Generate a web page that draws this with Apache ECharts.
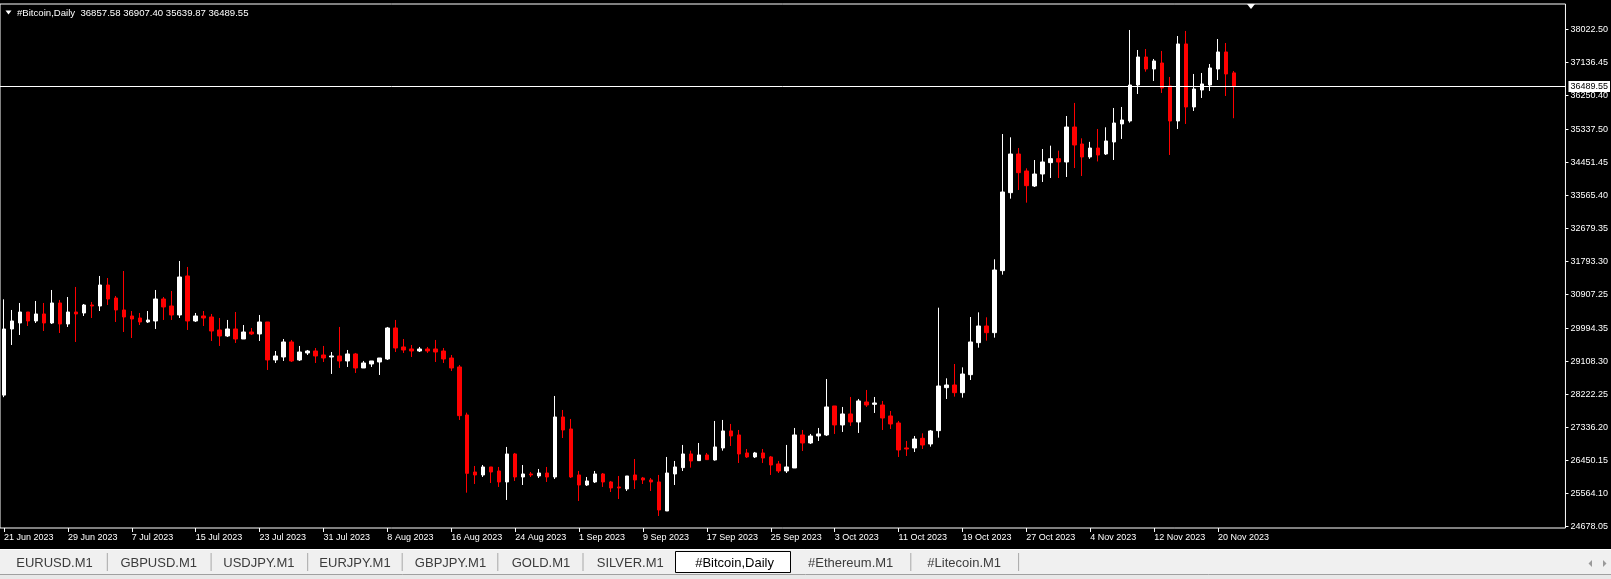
<!DOCTYPE html>
<html>
<head>
<meta charset="utf-8">
<title>#Bitcoin,Daily</title>
<script src="https://cdn.jsdelivr.net/npm/echarts@6/dist/echarts.min.js"></script>
<style>
  html, body { margin: 0; padding: 0; background: #000; overflow: hidden; }
  #chart { width: 1611px; height: 579px; }
</style>
</head>
<body>
<div id="chart"></div>
<script>
// daily bars, first one is 21 Jun 2023
const startDay = [2023, 5, 21];
const slots = 196; // bars that fit in the window incl. the shifted empty area

const opens = [
  28205, 29981, 30142, 30437, 30196, 30384, 30142, 30679, 30115, 30437,
  30410, 30625, 30598, 31162, 30813, 30491, 30330, 30276, 30169, 30196,
  30786, 30598, 30357, 31404, 30196, 30330, 30303, 29954, 29793, 29981,
  29712, 29900, 29847, 30169, 29149, 29229, 29632, 29149, 29337, 29390,
  29283, 29229, 29256, 29122, 29310, 28934, 29041, 29095, 29175, 30008,
  29498, 29444, 29390, 29444, 29444, 29390, 29202, 28961, 27672, 26141,
  26061, 26276, 26168, 25873, 26625, 26007, 26088, 26034, 26114, 26007,
  27618, 27296, 26061, 25792, 25873, 26088, 25873, 25739, 25685, 26061,
  25980, 25927, 25873, 25094, 26088, 26258, 26625, 26446, 26598, 26464,
  26786, 27243, 27135, 26652, 26545, 26652, 26545, 26356, 26168, 26249,
  27135, 26920, 27108, 27135, 27914, 27404, 27699, 27484, 28021, 27958,
  27940, 27645, 27457, 26786, 26786, 27045, 26893, 27251, 28405, 28477,
  28271, 28754, 29614, 30061, 29882, 31547, 33641, 34679, 34223, 33820,
  34142, 34447, 34554, 34465, 35404, 34948, 34600, 34840, 34680, 35002,
  35486, 35566, 36532, 37284, 36962, 37123, 36506, 35566, 37634, 35942,
  36398, 36532, 36962, 37419, 36857.58
];
const highs = [
  30778, 30491, 30679, 30437, 30733, 30679, 31028, 30760, 30840, 31109,
  30652, 30706, 31404, 31350, 30867, 31538, 30464, 30410, 30464, 31028,
  30840, 31001, 31807, 31646, 30410, 30464, 30384, 30276, 30223, 30437,
  30088, 30008, 30357, 30169, 29390, 29712, 29686, 29525, 29417, 29471,
  29525, 29363, 30035, 29417, 29337, 29122, 29122, 29202, 30035, 30223,
  29712, 29551, 29498, 29498, 29686, 29471, 29283, 29014, 27734, 26302,
  26329, 26276, 26276, 26813, 26652, 26329, 26141, 26222, 26276, 28182,
  27806, 27565, 26168, 26007, 26168, 26114, 25900, 26034, 26034, 26490,
  26007, 25980, 26061, 26544, 26437, 26867, 26714, 26920, 26652, 27511,
  27538, 27431, 27269, 26759, 26679, 26759, 26571, 26437, 26867, 27323,
  27269, 27162, 27323, 28638, 27914, 27887, 28155, 28102, 28343, 28155,
  28048, 27779, 27511, 26974, 27108, 27179, 27269, 30553, 28656, 29041,
  28951, 30303, 30428, 30294, 31851, 35216, 35127, 34840, 34295, 34518,
  34814, 34903, 34769, 35700, 36050, 35100, 35005, 35351, 35396, 35915,
  35942, 38009, 37472, 37499, 37231, 37446, 36748, 37848, 37983, 36828,
  36855, 37096, 37767, 37660, 36907.40
];
const lows = [
  28150, 29551, 29820, 30061, 30142, 29927, 30115, 29873, 30035, 29632,
  30330, 30276, 30464, 30625, 30169, 29900, 29739, 30088, 30142, 29981,
  30223, 30223, 30276, 29954, 30169, 30061, 29659, 29525, 29766, 29605,
  29712, 29820, 29659, 28880, 29068, 29122, 29095, 29122, 29283, 29068,
  29095, 28773, 28934, 28961, 28800, 28934, 28961, 28746, 29149, 29363,
  29337, 29229, 29363, 29337, 29095, 29068, 28853, 27538, 25586, 25819,
  26007, 25846, 25739, 25390, 25900, 25792, 26007, 25980, 25873, 25953,
  27054, 25980, 25363, 25765, 25846, 25739, 25604, 25416, 25631, 25685,
  25819, 25631, 24960, 25094, 25792, 26168, 26258, 26437, 26463, 26446,
  26714, 26840, 26383, 26517, 26517, 26383, 26061, 26114, 26114, 26249,
  26705, 26893, 26974, 27108, 27162, 27216, 27377, 27189, 27887, 27726,
  27269, 27296, 26544, 26571, 26678, 26759, 26821, 27063, 28101, 28164,
  28137, 28611, 29479, 29667, 29748, 31439, 33480, 33713, 33373, 33793,
  33928, 34035, 34035, 34062, 34303, 34089, 34550, 34480, 34653, 34519,
  35083, 35521, 36291, 36890, 36640, 36318, 34653, 35351, 35486, 35835,
  36184, 36371, 36667, 36237, 35639.87
];
const closes = [
  29981, 30196, 30437, 30196, 30384, 30142, 30679, 30115, 30437, 30384,
  30625, 30598, 31162, 30786, 30491, 30303, 30249, 30169, 30222, 30786,
  30572, 30357, 31377, 30196, 30330, 30276, 29927, 29793, 29981, 29712,
  29900, 29847, 30169, 29149, 29256, 29632, 29122, 29363, 29390, 29256,
  29202, 29256, 29122, 29310, 28934, 29068, 29122, 29202, 30008, 29471,
  29417, 29390, 29444, 29390, 29363, 29175, 28934, 27654, 26105, 26061,
  26276, 26141, 25873, 26625, 26007, 26088, 26061, 26114, 26007, 27618,
  27269, 26007, 25792, 25900, 26088, 25873, 25712, 25712, 26034, 25927,
  25927, 25873, 25121, 26114, 26276, 26625, 26437, 26598, 26473, 26813,
  27243, 27108, 26625, 26545, 26652, 26517, 26329, 26168, 26276, 27135,
  26920, 27108, 27162, 27887, 27404, 27699, 27484, 28048, 27940, 27994,
  27591, 27430, 26732, 26759, 27027, 26866, 27242, 28450, 28477, 28271,
  28772, 29632, 30061, 29882, 31565, 33659, 34679, 34178, 33829, 34142,
  34465, 34554, 34465, 35404, 34921, 34599, 34840, 34652, 35029, 35512,
  35593, 36532, 37284, 36962, 37177, 36452, 35566, 37634, 35942, 36425,
  36560, 36989, 37419, 36828, 36489.55
];

// price scale labels as printed by the terminal
const priceTicks = [
  24678.05, 25564.10, 26450.15, 27336.20, 28222.25, 29108.30, 29994.35, 30907.25,
  31793.30, 32679.35, 33565.40, 34451.45, 35337.50, 36250.40, 37136.45, 38022.50
];
const symbolName = '#Bitcoin,Daily';
const tabNames = ['EURUSD.M1', 'GBPUSD.M1', 'USDJPY.M1', 'EURJPY.M1', 'GBPJPY.M1',
  'GOLD.M1', 'SILVER.M1', '#Bitcoin,Daily', '#Ethereum.M1', '#Litecoin.M1'];
const activeTab = 7;

const MONTHS = ['Jan', 'Feb', 'Mar', 'Apr', 'May', 'Jun', 'Jul', 'Aug', 'Sep', 'Oct', 'Nov', 'Dec'];
const categories = [];
for (let i = 0; i < slots; i++) {
  if (i >= opens.length) { categories.push(''); continue; }
  const d = new Date(Date.UTC(startDay[0], startDay[1], startDay[2] + i));
  categories.push(d.getUTCDate() + ' ' + MONTHS[d.getUTCMonth()] + ' ' + d.getUTCFullYear());
}
const candles = opens.map((o, i) => [o, closes[i], lows[i], highs[i]]);
const last = opens.length - 1;
const lastPrice = closes[last];
const header = symbolName + '  ' + [opens[last], highs[last], lows[last], closes[last]]
  .map(v => v.toFixed(2)).join(' ');

const showDate = (idx) => idx % 8 === 0 && idx < opens.length - 1;

// bottom tab strip (terminal chrome)
const tabCenters = [54.5, 158.7, 258.9, 355, 450.5, 541, 630.3, 734.6, 850.7, 964.2];
const tabSeps = [106.8, 210.6, 307.2, 401.7, 497.3, 582.5, 910.3, 1018.1];
const chrome = [
  { type: 'rect', shape: { x: 0, y: 549, width: 1611, height: 30 }, style: { fill: '#f0f0f0' } },
  { type: 'line', shape: { x1: 0, y1: 549.5, x2: 1611, y2: 549.5 }, style: { stroke: '#ffffff', lineWidth: 1 } },
  { type: 'line', shape: { x1: 0, y1: 574.5, x2: 1611, y2: 574.5 }, style: { stroke: '#a0a0a0', lineWidth: 1 } },
  { type: 'rect', shape: { x: 0, y: 575, width: 1611, height: 4 }, style: { fill: '#e8e8e8' } },
  { type: 'rect', shape: { x: 675.5, y: 551.5, width: 115, height: 21 }, style: { fill: '#ffffff', stroke: '#000000', lineWidth: 1 } },
  { type: 'polygon', shape: { points: [[5.5, 10.5], [11.5, 10.5], [8.5, 14.5]] }, style: { fill: '#ffffff' } },
  { type: 'polygon', shape: { points: [[1247, 4], [1255, 4], [1251, 9]] }, style: { fill: '#ffffff' } },
  { type: 'polygon', shape: { points: [[1592, 560], [1592, 567], [1588.5, 563.5]] }, style: { fill: '#9a9a9a' } },
  { type: 'polygon', shape: { points: [[1603, 560], [1603, 567], [1606.5, 563.5]] }, style: { fill: '#9a9a9a' } },
  { type: 'text', x: 17, y: 13, style: { text: header, fill: '#ffffff', font: '9.6px "Liberation Sans"', verticalAlign: 'middle' } }
];
tabSeps.forEach(x => chrome.push({
  type: 'line', shape: { x1: x + 0.5, y1: 553, x2: x + 0.5, y2: 571 }, style: { stroke: '#a8a8a8', lineWidth: 1 }
}));
tabNames.forEach((name, i) => chrome.push({
  type: 'text', x: tabCenters[i], y: 563,
  style: {
    text: name, fill: i === activeTab ? '#000000' : '#3c3c3c',
    font: '13px "Liberation Sans"', align: 'center', verticalAlign: 'middle'
  }
}));

const chart = echarts.init(document.getElementById('chart'));
chart.setOption({
  animation: false,
  backgroundColor: '#000000',
  grid: { left: 0, right: 44, top: 4, bottom: 51, show: true, borderColor: '#ffffff', borderWidth: 1, backgroundColor: '#000000' },
  xAxis: {
    type: 'category',
    data: categories,
    boundaryGap: true,
    axisLine: { show: false },
    axisTick: { show: true, alignWithLabel: true, length: 4, interval: showDate, lineStyle: { color: '#ffffff' } },
    axisLabel: {
      interval: showDate, align: 'left', margin: 5,
      color: '#ffffff', fontSize: 9, fontFamily: 'Liberation Sans'
    },
    splitLine: { show: false }
  },
  yAxis: {
    type: 'value',
    position: 'right',
    min: 24637,
    max: 38707,
    axisLine: { show: false },
    axisTick: { show: true, length: 3, customValues: priceTicks, lineStyle: { color: '#ffffff' } },
    axisLabel: {
      customValues: priceTicks, margin: 5,
      formatter: v => v.toFixed(2),
      color: '#ffffff', fontSize: 9, fontFamily: 'Liberation Sans'
    },
    splitLine: { show: false }
  },
  series: [{
    type: 'candlestick',
    data: candles,
    barWidth: 4,
    itemStyle: {
      color: '#ffffff', color0: '#ff0000',
      borderColor: '#ffffff', borderColor0: '#ff0000', borderColorDoji: '#ffffff',
      borderWidth: 1
    },
    markLine: {
      silent: true,
      symbol: 'none',
      z: 10,
      data: [{ yAxis: lastPrice }],
      lineStyle: { color: '#ffffff', width: 1, type: 'solid' },
      label: {
        position: 'end', distance: 3,
        formatter: lastPrice.toFixed(2),
        color: '#000000', backgroundColor: '#ffffff', padding: [1, 2],
        fontSize: 9, fontFamily: 'Liberation Sans'
      }
    }
  }],
  graphic: chrome
});
</script>
</body>
</html>
